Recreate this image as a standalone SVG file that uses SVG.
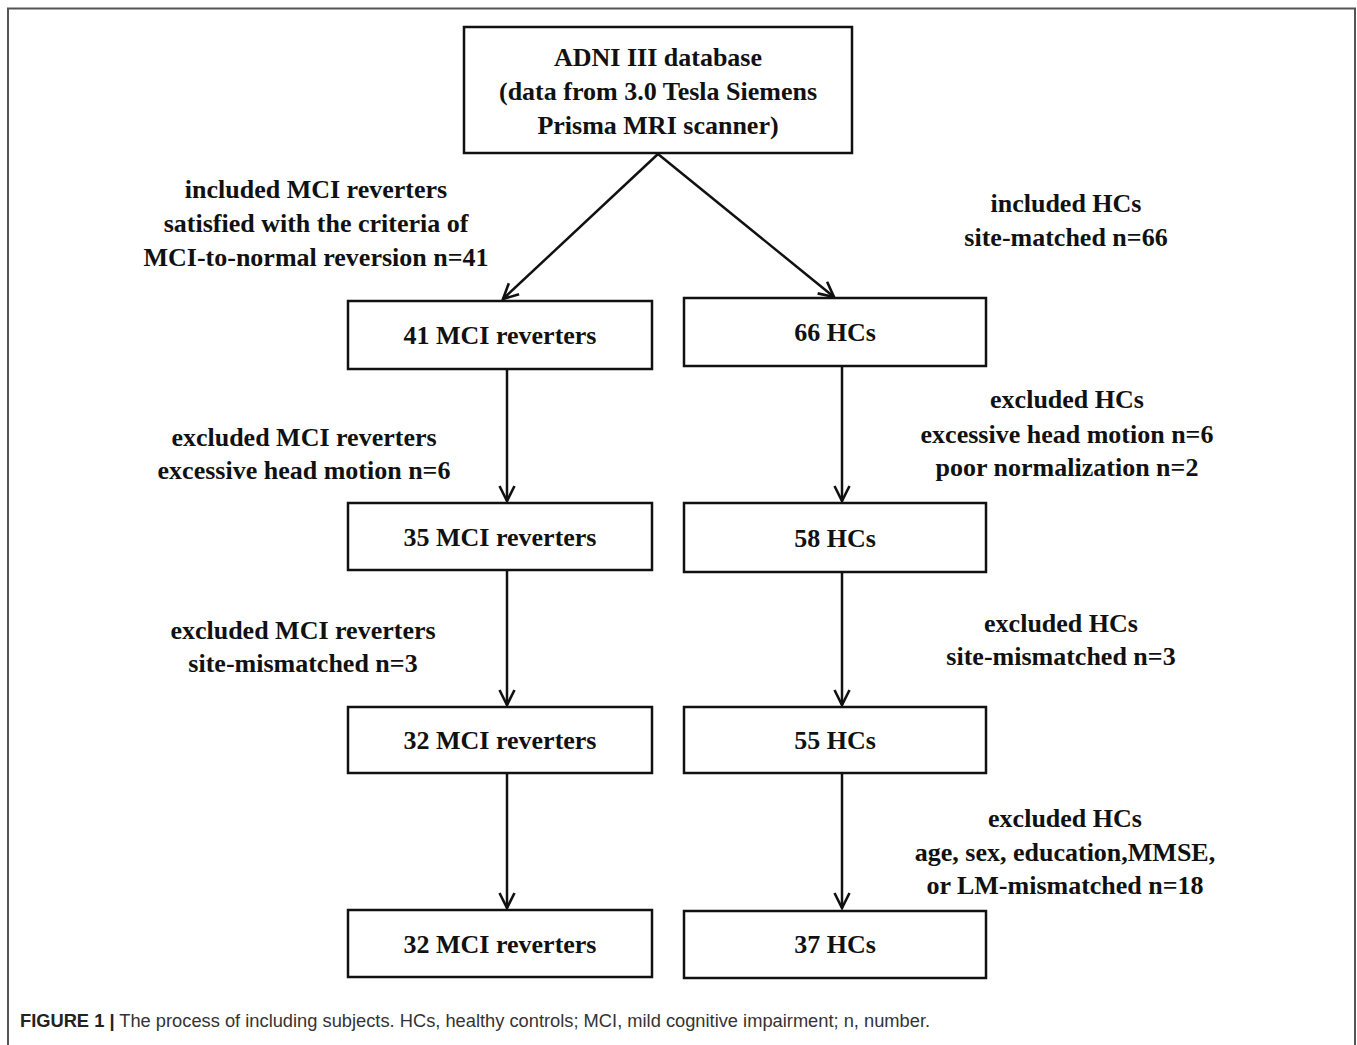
<svg xmlns="http://www.w3.org/2000/svg" width="1357" height="1045" viewBox="0 0 1357 1045">
<defs>
<style>
.box{fill:#fff;stroke:#111;stroke-width:2.5}
.t{font-family:"Liberation Serif","Times New Roman",serif;font-weight:bold;font-size:26px;fill:#111;text-anchor:middle}
.c{stroke:#111;stroke-width:2.5;fill:none;marker-end:url(#ah)}
.cap{font-family:"Liberation Sans",Arial,sans-serif;font-size:18.3px;fill:#333}
</style>
<marker id="ah" viewBox="0 0 18 18" refX="16" refY="9" markerWidth="18" markerHeight="18" markerUnits="userSpaceOnUse" orient="auto">
<path d="M1,1.5 L16,9 L1,16.5" fill="none" stroke="#111" stroke-width="2.6"/>
</marker>
</defs>
<rect width="1357" height="1045" fill="#fff"/>
<path d="M8,1045 V8.5 H1355 V1045" fill="none" stroke="#555" stroke-width="2"/>

<g id="connectors">
<line class="c" x1="658" y1="154" x2="503" y2="299"/>
<line class="c" x1="658" y1="154" x2="834" y2="297"/>
<line class="c" x1="507" y1="369" x2="507" y2="501"/>
<line class="c" x1="842" y1="366" x2="842" y2="501"/>
<line class="c" x1="507" y1="570" x2="507" y2="705"/>
<line class="c" x1="842" y1="572" x2="842" y2="705"/>
<line class="c" x1="507" y1="773" x2="507" y2="908"/>
<line class="c" x1="842" y1="773" x2="842" y2="908"/>
</g>

<g id="n-adni"><rect class="box" x="464" y="27" width="388" height="126"/>
<text class="t" x="658" y="66">ADNI III database</text>
<text class="t" x="658" y="100">(data from 3.0 Tesla Siemens</text>
<text class="t" x="658" y="134">Prisma MRI scanner)</text></g>

<g id="n-mci41"><rect class="box" x="348" y="301" width="304" height="68"/><text class="t" x="500" y="344">41 MCI reverters</text></g>
<g id="n-hc66"><rect class="box" x="684" y="298" width="302" height="68"/><text class="t" x="835" y="341">66 HCs</text></g>
<g id="n-mci35"><rect class="box" x="348" y="503" width="304" height="67"/><text class="t" x="500" y="546">35 MCI reverters</text></g>
<g id="n-hc58"><rect class="box" x="684" y="503" width="302" height="69"/><text class="t" x="835" y="547">58 HCs</text></g>
<g id="n-mci32a"><rect class="box" x="348" y="707" width="304" height="66"/><text class="t" x="500" y="749">32 MCI reverters</text></g>
<g id="n-hc55"><rect class="box" x="684" y="707" width="302" height="66"/><text class="t" x="835" y="749">55 HCs</text></g>
<g id="n-mci32b"><rect class="box" x="348" y="910" width="304" height="67"/><text class="t" x="500" y="953">32 MCI reverters</text></g>
<g id="n-hc37"><rect class="box" x="684" y="911" width="302" height="67"/><text class="t" x="835" y="953">37 HCs</text></g>

<g id="labels">
<text class="t" x="316" y="198">included MCI reverters</text>
<text class="t" x="316" y="232">satisfied with the criteria of</text>
<text class="t" x="316" y="266">MCI-to-normal reversion n=41</text>
<text class="t" x="1066" y="212">included HCs</text>
<text class="t" x="1066" y="246">site-matched n=66</text>
<text class="t" x="304" y="446">excluded MCI reverters</text>
<text class="t" x="304" y="479">excessive head motion n=6</text>
<text class="t" x="1067" y="408">excluded HCs</text>
<text class="t" x="1067" y="443">excessive head motion n=6</text>
<text class="t" x="1067" y="476">poor normalization n=2</text>
<text class="t" x="303" y="639">excluded MCI reverters</text>
<text class="t" x="303" y="672">site-mismatched n=3</text>
<text class="t" x="1061" y="632">excluded HCs</text>
<text class="t" x="1061" y="665">site-mismatched n=3</text>
<text class="t" x="1065" y="827">excluded HCs</text>
<text class="t" x="1065" y="861">age, sex, education,MMSE,</text>
<text class="t" x="1065" y="894">or LM-mismatched n=18</text>
</g>

<text class="cap" x="20" y="1027"><tspan font-weight="bold" fill="#222">FIGURE 1 |</tspan> The process of including subjects. HCs, healthy controls; MCI, mild cognitive impairment; n, number.</text>
</svg>
